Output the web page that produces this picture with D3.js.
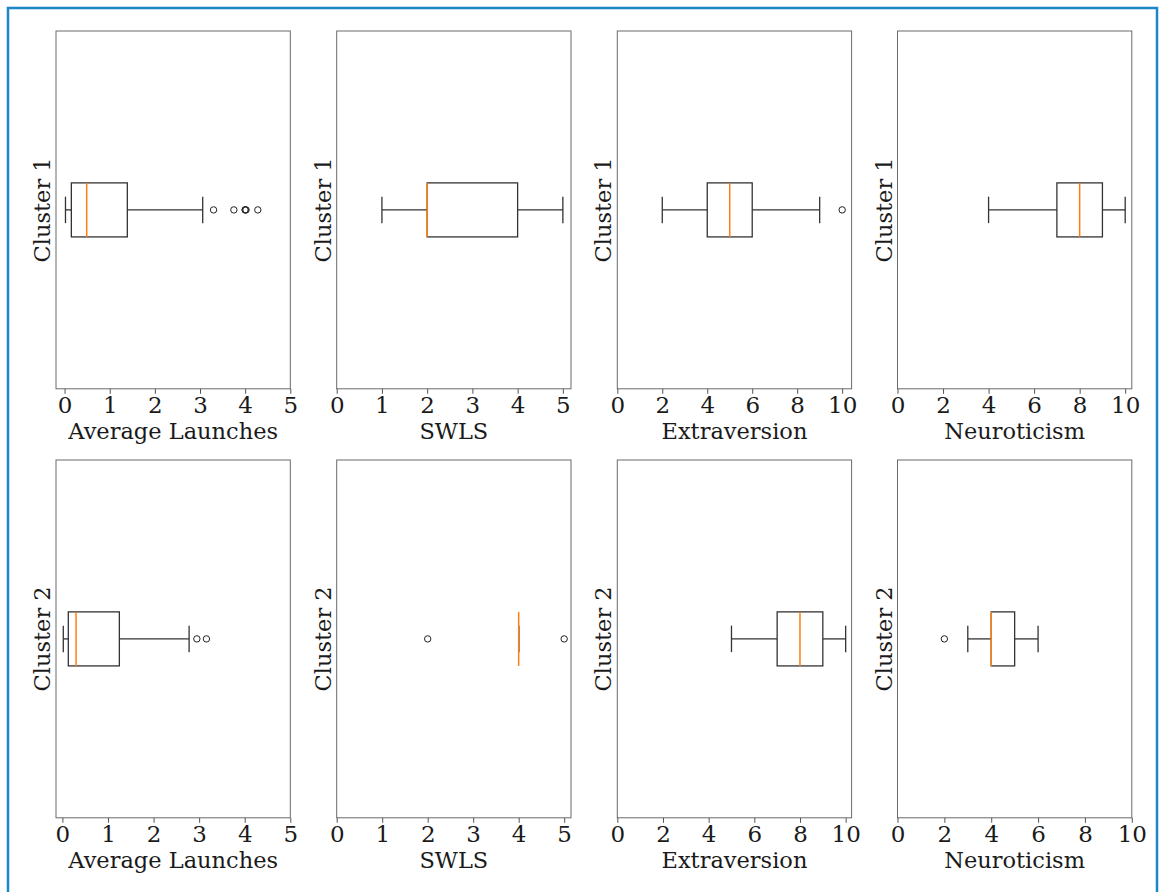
<!doctype html>
<html>
<head>
    <style>
        body { margin: 0; background: #fff; }
        text { font-family: "DejaVu Serif", serif; fill: #1a1a1a; }
    </style>
    <script src="https://d3js.org/d3.v7.min.js"></script>
</head>
<body>
<svg width="1160" height="892"></svg>
<script>

    // variables (columns) and clusters (rows)
    var variables = ["Average Launches", "SWLS", "Extraversion", "Neuroticism"];
    var clusters = ["Cluster 1", "Cluster 2"];

    // cluster 1 box stats, one value per variable
    var c1Low    = [0.02, 1, 2, 4];
    var c1Q1     = [0.15, 2, 4, 7];
    var c1Median = [0.49, 2, 5, 8];
    var c1Q3     = [1.39, 4, 6, 9];
    var c1High   = [3.06, 5, 9, 10];
    var c1Fliers = [[3.30, 3.75, 4.0, 4.0, 4.02, 4.28], [], [10], []];

    // cluster 2 box stats
    var c2Low    = [0.02, 4, 5, 3];
    var c2Q1     = [0.13, 4, 7, 4];
    var c2Median = [0.30, 4, 8, 4];
    var c2Q3     = [1.25, 4, 9, 5];
    var c2High   = [2.78, 4, 10, 6];
    var c2Fliers = [[2.95, 3.16], [2, 5], [], [2]];

    // tick labels and x limits
    var ticksLaunches = [0, 1, 2, 3, 4, 5];
    var ticksSWLS = [0, 1, 2, 3, 4, 5];
    var ticksTen = [0, 2, 4, 6, 8, 10];
    var c1XMin = [-0.19, 0, 0, 0];
    var c1XMax = [5, 5.18, 10.42, 10.29];
    var c2XMin = [-0.14, 0, 0, 0];
    var c2XMax = [5, 5.15, 10.26, 10];

    var svg = d3.select("svg");

    // blue outer frame
    svg.append("rect")
       .attr("x", 8).attr("y", 8)
       .attr("width", 1149).attr("height", 950)
       .attr("fill", "none")
       .attr("stroke", "#1b87c6")
       .attr("stroke-width", 2.5);

    var lefts = [56, 336.7, 617.3, 897.5],
        tops = [31, 460],
        W = 234.3,
        H = 357.8;

    var rows = [
        {low: c1Low, q1: c1Q1, med: c1Median, q3: c1Q3, high: c1High, fliers: c1Fliers, xmin: c1XMin, xmax: c1XMax},
        {low: c2Low, q1: c2Q1, med: c2Median, q3: c2Q3, high: c2High, fliers: c2Fliers, xmin: c2XMin, xmax: c2XMax}
    ];
    var ticks = [ticksLaunches, ticksSWLS, ticksTen, ticksTen];

    rows.forEach(function(s, r) {
        variables.forEach(function(name, c) {
            var g = svg.append("g")
                       .attr("transform", "translate(" + lefts[c] + "," + tops[r] + ")");

            var x = d3.scaleLinear().domain([s.xmin[c], s.xmax[c]]).range([0, W]);
            var y = d3.scaleLinear().domain([0.5, 1.5]).range([H, 0]);

            // frame
            g.append("rect")
             .attr("width", W).attr("height", H)
             .attr("fill", "none")
             .attr("stroke", "#6a6a6a")
             .attr("stroke-width", 1);

            var ax = g.append("g")
             .attr("transform", "translate(0," + H + ")")
             .call(d3.axisBottom(x).tickValues(ticks[c]).tickFormat(d3.format("d"))
                   .tickSize(5).tickPadding(3));
            ax.select(".domain").remove();
            ax.selectAll("line").attr("stroke", "#555");
            ax.selectAll("text").attr("font-size", "23px").attr("fill", "#1a1a1a")
              .attr("font-family", "DejaVu Serif");

            g.append("text")
             .attr("x", W / 2)
             .attr("y", H + 50)
             .attr("text-anchor", "middle")
             .attr("font-size", "22.5px")
             .text(name);

            g.append("text")
             .attr("transform", "translate(-6," + (H / 2) + ") rotate(-90)")
             .attr("text-anchor", "middle")
             .attr("font-size", "22.5px")
             .text(clusters[r]);

            var bw = 0.0755, cw = 0.037, line = "#333";

            // whiskers
            g.append("line")
             .attr("x1", x(s.low[c])).attr("x2", x(s.q1[c]))
             .attr("y1", y(1)).attr("y2", y(1))
             .attr("stroke", line).attr("stroke-width", 1.3);
            g.append("line")
             .attr("x1", x(s.q3[c])).attr("x2", x(s.high[c]))
             .attr("y1", y(1)).attr("y2", y(1))
             .attr("stroke", line).attr("stroke-width", 1.3);

            // caps
            [s.low[c], s.high[c]].forEach(function(v) {
                g.append("line")
                 .attr("x1", x(v)).attr("x2", x(v))
                 .attr("y1", y(1 + cw)).attr("y2", y(1 - cw))
                 .attr("stroke", line).attr("stroke-width", 1.3);
            });

            // box
            g.append("rect")
             .attr("x", x(s.q1[c]))
             .attr("y", y(1 + bw))
             .attr("width", x(s.q3[c]) - x(s.q1[c]))
             .attr("height", y(1 - bw) - y(1 + bw))
             .attr("fill", "none")
             .attr("stroke", line).attr("stroke-width", 1.3);

            // median
            g.append("line")
             .attr("x1", x(s.med[c])).attr("x2", x(s.med[c]))
             .attr("y1", y(1 + bw)).attr("y2", y(1 - bw))
             .attr("stroke", "#ff7f0e").attr("stroke-width", 1.5);

            // outliers
            g.selectAll(".flier")
             .data(s.fliers[c])
             .enter().append("circle")
             .attr("cx", function(d) { return x(d); })
             .attr("cy", y(1))
             .attr("r", 3.2)
             .attr("fill", "none")
             .attr("stroke", "#222")
             .attr("stroke-width", 1);
        });
    });

</script>
</body>
</html>
